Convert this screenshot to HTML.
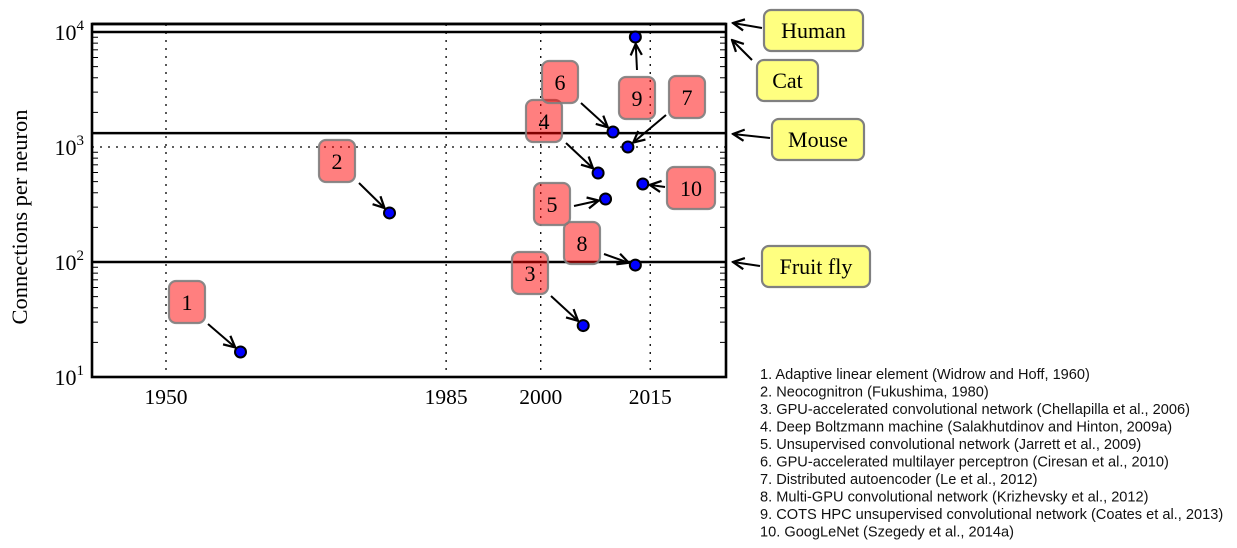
<!DOCTYPE html>
<html><head><meta charset="utf-8"><style>
body{margin:0;background:#fff;width:1237px;height:548px;overflow:hidden}
svg{display:block}
text{font-family:"Liberation Serif",serif;fill:#000}
.leg{font-family:"Liberation Sans",sans-serif;font-size:14.6px;fill:#111}
</style></head><body>
<svg id="chart" width="1237" height="548" xmlns="http://www.w3.org/2000/svg">
<defs><marker id="ah" viewBox="0 0 10 10" refX="9" refY="5" markerWidth="7" markerHeight="7" orient="auto-start-reverse"><path d="M1,1 L9,5 L1,9" fill="none" stroke="#000" stroke-width="1.6"/></marker></defs>
<g id="grid"></g><g id="refs"></g><g id="axes"></g><g id="marks"></g><g id="labels"></g>
<text transform="translate(27,217) rotate(-90)" text-anchor="middle" font-size="22.5">Connections per neuron</text>
<g id="legend"></g>
</svg>
<script>
const years=[1960,1980,2006,2008,2009,2010,2012,2013,2013,2014];
const conns=[16.5,267,28,594,353,1350,1000,94,9050,477];
const ids=["1","2","3","4","5","6","7","8","9","10"];
const xTickVals=[1950,1987.6,2000.3,2015.0];
const xTickLabels=["1950","1985","2000","2015"];
const yTickVals=[10,100,1000,10000];
const yTickExp=["1","2","3","4"];
const refNames=["Human","Cat","Mouse","Fruit fly"];
const refVals=[11750,10000,1320,100];
const legendItems=["1. Adaptive linear element (Widrow and Hoff, 1960)","2. Neocognitron (Fukushima, 1980)","3. GPU-accelerated convolutional network (Chellapilla et al., 2006)","4. Deep Boltzmann machine (Salakhutdinov and Hinton, 2009a)","5. Unsupervised convolutional network (Jarrett et al., 2009)","6. GPU-accelerated multilayer perceptron (Ciresan et al., 2010)","7. Distributed autoencoder (Le et al., 2012)","8. Multi-GPU convolutional network (Krizhevsky et al., 2012)","9. COTS HPC unsupervised convolutional network (Coates et al., 2013)","10. GoogLeNet (Szegedy et al., 2014a)"];

const L=92,R=726,T=24,B=377;
const x=v=>166+(v-1950)*7.45;
const y=v=>377-(Math.log10(v)-1)*115;
const NS="http://www.w3.org/2000/svg";
function mk(tag,attrs,parent,txt){const e=document.createElementNS(NS,tag);for(const k in attrs)e.setAttribute(k,attrs[k]);if(txt!==undefined)e.textContent=txt;document.getElementById(parent).appendChild(e);return e;}

xTickVals.forEach((v,i)=>{
 const g=mk('line',{x1:x(v),x2:x(v),y1:T,y2:B,stroke:'#000','stroke-width':1.3,'stroke-dasharray':'2,6'},'grid');
 
 
 const t=mk('text',{x:x(v),y:404,'text-anchor':'middle','font-size':21.5},'axes',xTickLabels[i]);
 
 
});
const dg=mk('line',{x1:L,x2:R,y1:y(1000),y2:y(1000),stroke:'#000','stroke-width':1.3,'stroke-dasharray':'2,6'},'grid');


yTickVals.forEach((v,i)=>{
 const t=mk('text',{x:84,y:y(v)+8,'text-anchor':'end','font-size':22},'axes');
 
 
 t.innerHTML='10<tspan dy="-10" font-size="15">'+yTickExp[i]+'</tspan>';
 if(i<3){for(let m=2;m<=9;m++){const yy=y(v*m);
  mk('line',{x1:L,x2:L+6,y1:yy,y2:yy,stroke:'#000','stroke-width':1},'axes');
  mk('line',{x1:R-6,x2:R,y1:yy,y2:yy,stroke:'#000','stroke-width':1},'axes');}}
});
const refBox=[[764,10,99],[757,60,61],[772,119,92],[762,246,108]];
const refArrow=[[762,28,733,23],[752,60,732,40],[770,138,733,134],[760,266,733,262]];
refVals.forEach((v,i)=>{
 const ln=mk('line',{x1:L,x2:R,y1:y(v),y2:y(v),stroke:'#000','stroke-width':2.6},'refs');
 
 
 const b=refBox[i];
 const r=mk('rect',{x:b[0],y:b[1],width:b[2],height:41,rx:7,fill:'#ffff80',stroke:'#808080','stroke-width':2.2},'labels');
 
 
 const t=mk('text',{x:b[0]+b[2]/2,y:b[1]+28,'text-anchor':'middle','font-size':22},'labels',refNames[i]);
 
 
 const a=refArrow[i];
 const ar=mk('line',{x1:a[0],y1:a[1],x2:a[2],y2:a[3],stroke:'#000','stroke-width':2,'marker-end':'url(#ah)'},'labels');
 
 
});
const fr=mk('rect',{x:L,y:T,width:R-L,height:B-T,fill:'none',stroke:'#000','stroke-width':2.6},'axes');


const boxC=[[187,302,36],[337,161,36],[530,273,36],[544,121,36],[552,204,36],[560,82,36],[687,97,36],[582,243,36],[637,98,36],[691,188,48]];
const arrS=[[208,324],[359,183],[551,296],[566,143],[574,206],[581,103],[666,115],[604,254],[637,70],[665,187]];
years.forEach((yr,i)=>{
 const px=x(yr),py=y(conns[i]);
 const s=arrS[i];const dx=px-s[0],dy=py-s[1],d=Math.hypot(dx,dy);
 const ar=mk('line',{x1:s[0],y1:s[1],x2:px-dx/d*7,y2:py-dy/d*7,stroke:'#000','stroke-width':2,'marker-end':'url(#ah)'},'marks');
 
 
 const c=mk('circle',{cx:px,cy:py,r:5.5,fill:'#0000ff',stroke:'#000','stroke-width':2},'marks');
 
 
 const b=boxC[i];
 const r=mk('rect',{x:b[0]-b[2]/2,y:b[1]-21,width:b[2],height:42,rx:7,fill:'rgba(255,0,0,0.5)',stroke:'rgba(128,128,128,0.9)','stroke-width':2.2},'labels');
 
 
 const t=mk('text',{x:b[0],y:b[1]+8,'text-anchor':'middle','font-size':22},'labels',ids[i]);
 
 
});
legendItems.forEach((s,i)=>{
 const t=mk('text',{x:760,y:379+i*17.5,class:'leg'},'legend',s);
 
 
});
</script>
</body></html>
